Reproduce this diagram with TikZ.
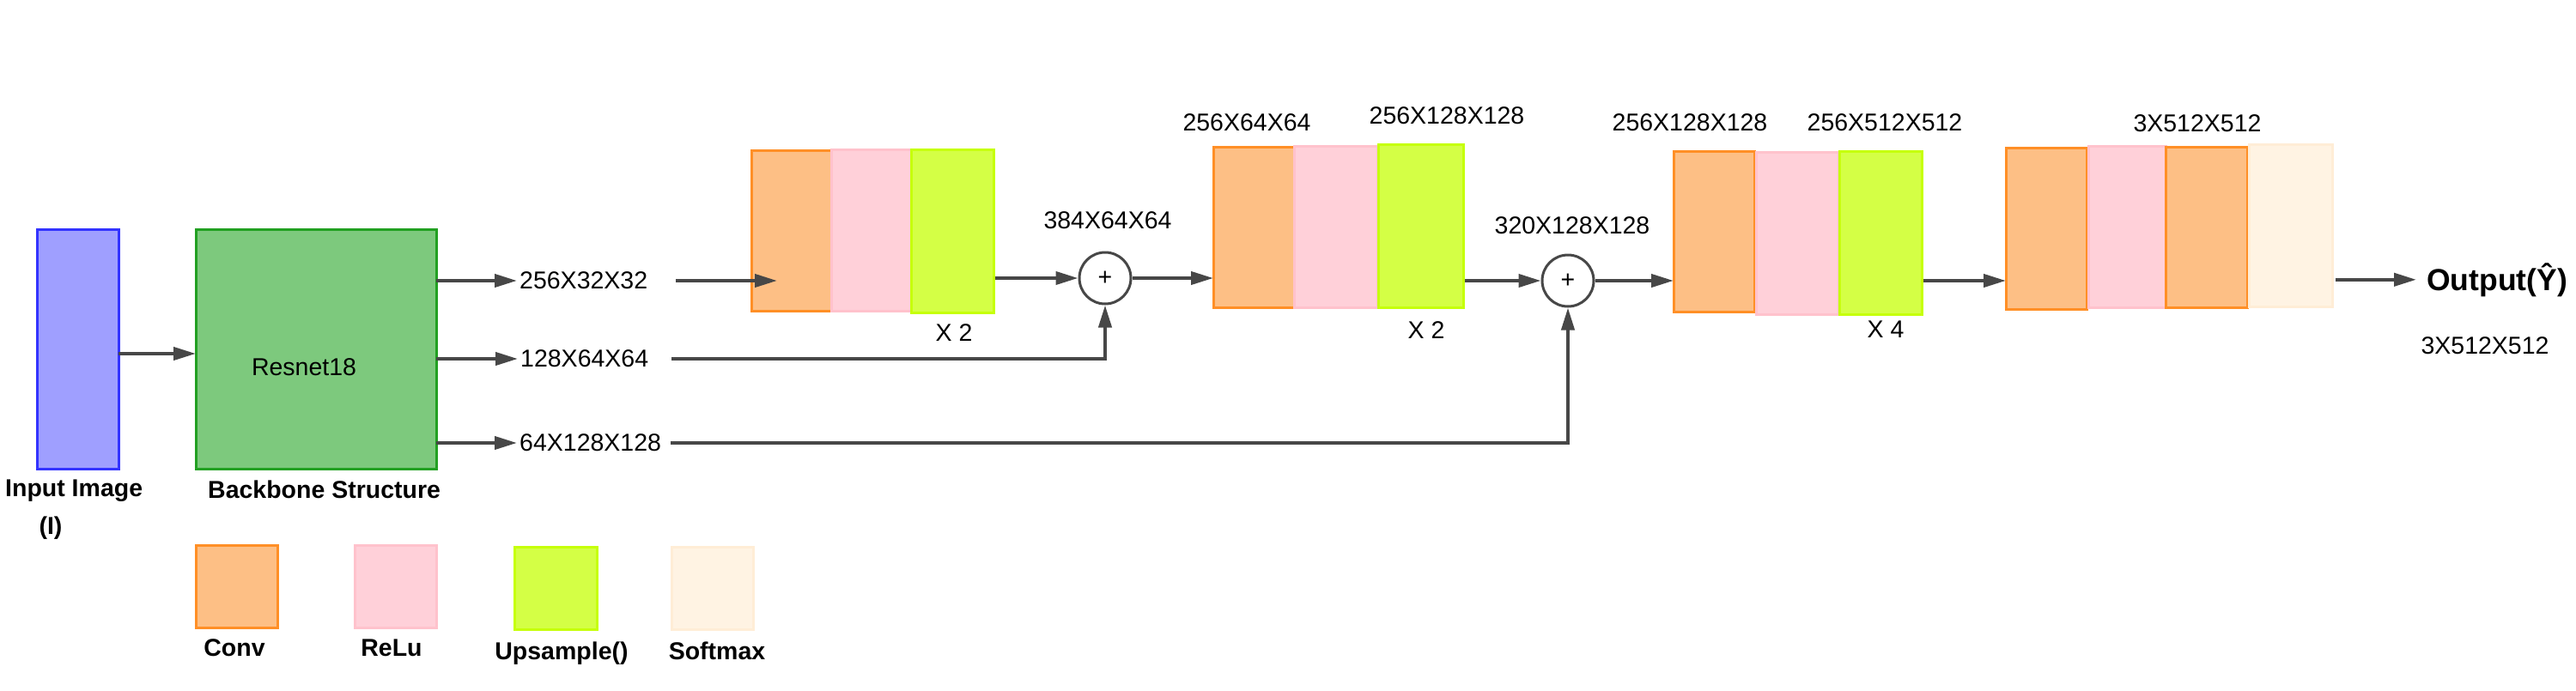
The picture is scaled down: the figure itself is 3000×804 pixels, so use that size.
\documentclass[tikz,border=0pt]{standalone}
\usepackage{fontspec}
\setmainfont{Liberation Sans}
\usetikzlibrary{arrows.meta}
\definecolor{convfill}{HTML}{FDBF85}
\definecolor{convdraw}{HTML}{FF8F26}
\definecolor{relufill}{HTML}{FFD0D9}
\definecolor{reludraw}{HTML}{FFC2CC}
\definecolor{upfill}{HTML}{D4FF45}
\definecolor{updraw}{HTML}{C6FF0A}
\definecolor{softfill}{HTML}{FFF3E3}
\definecolor{softdraw}{HTML}{FFEDD6}
\definecolor{infill}{HTML}{9F9FFF}
\definecolor{indraw}{HTML}{3333FF}
\definecolor{resfill}{HTML}{7DC97D}
\definecolor{resdraw}{HTML}{22A022}
\definecolor{linec}{HTML}{474747}
\begin{document}
\begin{tikzpicture}[x=1pt,y=-1pt,
  blk/.style={inner sep=0pt, outer sep=0pt, anchor=north west, line width=3pt},
  conv/.style={blk, fill=convfill, draw=convdraw},
  relu/.style={blk, fill=relufill, draw=reludraw},
  upsm/.style={blk, fill=upfill, draw=updraw},
  soft/.style={blk, fill=softfill, draw=softdraw},
  inbox/.style={blk, fill=infill, draw=indraw},
  resbox/.style={blk, fill=resfill, draw=resdraw},
  txt/.style={font=\fontsize{28.5}{34}\selectfont, inner sep=0pt},
  btxt/.style={font=\fontsize{28.5}{34}\selectfont\bfseries, inner sep=0pt},
  lab/.style={txt, inner sep=3pt, anchor=west},
  circ/.style={circle, draw=linec, line width=3pt, fill=white, minimum size=60pt, inner sep=0pt, font=\fontsize{28.5}{34}\selectfont},
  arr/.style={draw=linec, line width=4pt, -{Triangle[length=26pt,width=15pt]}},
]
\useasboundingbox (0,0) rectangle (3000,804);

% input and backbone
\node[inbox, minimum width=95pt, minimum height=279pt] (in) at (43,267) {};
\node[resbox, minimum width=280pt, minimum height=279pt] (res) at (228,267) {};
\node[txt, anchor=base] (resl) at (354,437) {Resnet18};
\node[btxt, anchor=base west] (inl) at (6,578) {Input Image};
\node[btxt, anchor=base] (inl2) at (59,622) {(I)};
\node[btxt, anchor=base west] (bbl) at (242,580) {Backbone Structure};
\coordinate (inarr) at (138,412);

% backbone outputs
\node[lab] (l1) at (602,327) {256X32X32};
\node[lab] (l2) at (603,418) {128X64X64};
\node[lab] (l3) at (602,516) {64X128X128};

% block 1
\node[conv, minimum width=93pt, minimum height=187pt] (b1c) at (875,175) {};
\node[relu, minimum width=93pt, minimum height=188pt] (b1r) at (968,174) {};
\node[upsm, minimum width=96pt, minimum height=190pt] (b1u) at (1061,174) {};
\node[txt, anchor=base] (x1) at (1111,397) {X 2};

% sum 1
\node[circ] (p1) at (1287,324) {+};
\node[txt, anchor=base] (s1) at (1290,266) {384X64X64};

% block 2
\node[conv, minimum width=94pt, minimum height=187pt] (b2c) at (1413,171) {};
\node[relu, minimum width=97pt, minimum height=188pt] (b2r) at (1507,170) {};
\node[upsm, minimum width=99pt, minimum height=190pt] (b2u) at (1605,168) {};
\node[txt, anchor=base] (t2a) at (1452,152) {256X64X64};
\node[txt, anchor=base] (t2b) at (1685,144) {256X128X128};
\node[txt, anchor=base] (x2) at (1661,394) {X 2};

% sum 2
\node[circ] (p2) at (1826,327) {+};
\node[txt, anchor=base] (s2) at (1831,272) {320X128X128};

% block 3
\node[conv, minimum width=94pt, minimum height=187pt] (b3c) at (1949,176) {};
\node[relu, minimum width=96pt, minimum height=189pt] (b3r) at (2045,177) {};
\node[upsm, minimum width=96pt, minimum height=190pt] (b3u) at (2142,176) {};
\node[txt, anchor=base] (t3a) at (1968,152) {256X128X128};
\node[txt, anchor=base] (t3b) at (2195,152) {256X512X512};
\node[txt, anchor=base] (x3) at (2196,393) {X 4};

% block 4
\node[conv, minimum width=94pt, minimum height=188pt] (b4c) at (2336,172) {};
\node[relu, minimum width=90pt, minimum height=188pt] (b4r) at (2432,170) {};
\node[conv, minimum width=95pt, minimum height=187pt] (b4d) at (2522,171) {};
\node[soft, minimum width=97pt, minimum height=189pt] (b4s) at (2619,168) {};
\node[txt, anchor=base] (t4) at (2559,153) {3X512X512};

% output
\node[font=\fontsize{35.5}{42}\selectfont\bfseries, inner sep=0pt, anchor=base west] (out) at (2826,338) {Output(Ŷ)};
\node[txt, anchor=base] (outd) at (2894,412) {3X512X512};

% legend
\node[conv, minimum width=95pt, minimum height=96pt] (lc) at (228,635) {};
\node[relu, minimum width=95pt, minimum height=96pt] (lr) at (413,635) {};
\node[upsm, minimum width=96pt, minimum height=96pt] (lu) at (599,637) {};
\node[soft, minimum width=95pt, minimum height=96pt] (ls) at (782,637) {};
\node[btxt, anchor=base] (lct) at (273,764) {Conv};
\node[btxt, anchor=base] (lrt) at (456,764) {ReLu};
\node[btxt, anchor=base] (lut) at (654,768) {Upsample()};
\node[btxt, anchor=base] (lst) at (835,768) {Softmax};

% connectors
\draw[arr] (inarr) -- (inarr -| res.west);
\draw[arr] (res.east |- l1.west) -- (l1.west);
\draw[arr] (res.east |- l2.west) -- (l2.west);
\draw[arr] (res.east |- l3.west) -- (l3.west);
\draw[arr] ([xshift=30pt]l1.east) -- ([xshift=30pt]l1.east -| b1c.west);
\draw[arr] ([xshift=24pt]l2.east) -| (p1.south);
\draw[arr] ([xshift=8pt]l3.east) -| (p2.south);
\draw[arr, shorten <=2pt] (b1u.east |- p1.west) -- (p1.west);
\draw[arr] (p1.east) -- (p1.east -| b2c.west);
\draw[arr, shorten <=2pt] (b2u.east |- p2.west) -- (p2.west);
\draw[arr] (p2.east) -- (p2.east -| b3c.west);
\draw[arr, shorten <=2pt] (b3u.east |- p2.east) -- (b4c.west |- p2.east);
\draw[arr, shorten <=4pt, shorten >=12pt] (b4s.east |- out.west) -- (out.west);
\end{tikzpicture}
\end{document}
